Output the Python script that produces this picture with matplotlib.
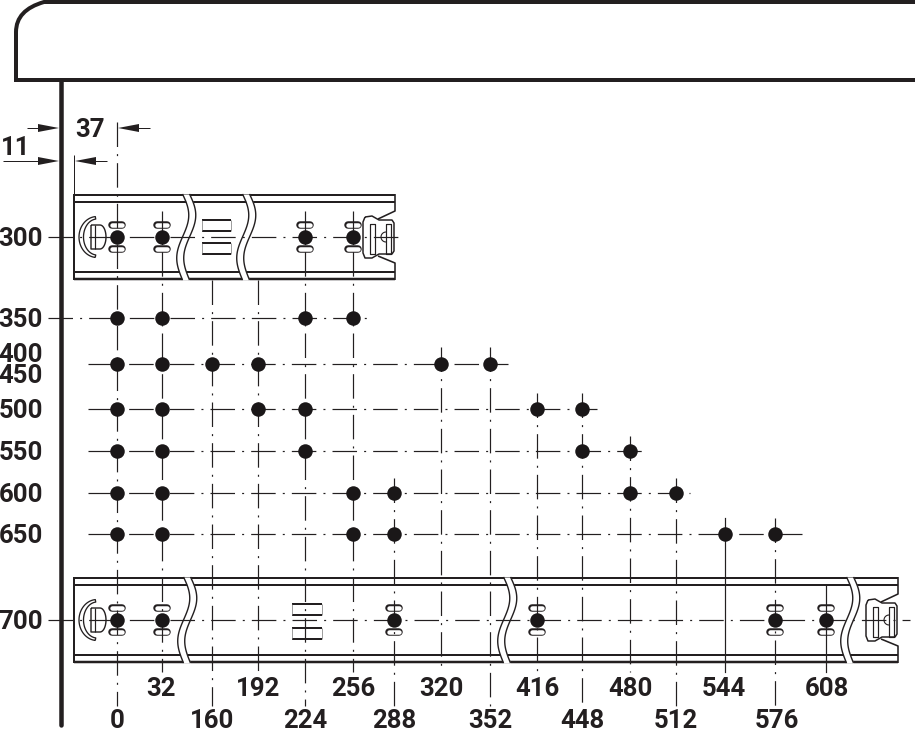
import numpy as np
import matplotlib
matplotlib.use('Agg')
import matplotlib.pyplot as plt
from matplotlib.path import Path
from matplotlib.patches import PathPatch, Polygon

plt.rcParams['font.family'] = ['Roboto', 'DejaVu Sans']
plt.rcParams['lines.scale_dashes'] = False

# hole rows (mm) and the columns (mm) drilled in each
row_names = [300, 350, 400, 500, 550, 600, 650, 700]
holes_300 = [0, 32, 224, 256]
holes_350 = [0, 32, 224, 256]
holes_400 = [0, 32, 160, 192, 320, 352]
holes_500 = [0, 32, 192, 224, 416, 448]
holes_550 = [0, 32, 224, 448, 480]
holes_600 = [0, 32, 256, 288, 480, 512]
holes_650 = [0, 32, 256, 288, 544, 576]
holes_700 = [0, 32, 288, 416, 576, 608]
all_holes = [holes_300, holes_350, holes_400, holes_500, holes_550, holes_600, holes_650, holes_700]

upper_labels = [32, 192, 256, 320, 416, 480, 544, 608]
lower_labels = [0, 160, 224, 288, 352, 448, 512, 576]
slot_columns_top = [0, 32, 224, 256]
slot_columns_bottom = [0, 32, 288, 416, 576, 608]
solid_columns = [544, 608]

# the drawing is not to scale, so columns/rows get their own pixel positions
col_x = {0: 117, 32: 162, 160: 212, 192: 258, 224: 305, 256: 353, 288: 394, 320: 441,
         352: 490, 416: 537, 448: 582, 480: 630, 512: 676, 544: 725, 576: 775, 608: 826}
row_y = {300: 237, 350: 318, 400: 364, 500: 409, 550: 451, 600: 493, 650: 534, 700: 620}
row_end = {300: 398, 350: 367, 400: 508, 500: 597, 550: 643, 600: 690, 650: 802, 700: 910}
col_top = {0: 122, 32: 211, 160: 280, 192: 280, 224: 211, 256: 211, 288: 478, 320: 347,
           352: 347, 416: 393, 448: 393, 480: 436, 512: 478, 544: 518, 576: 518, 608: 585}
label_shift = {32: -1, 544: -1, 576: 2, 608: 1}

INK = '#231f20'
PX = 0.72  # one pixel in points at dpi 100

fig = plt.figure(figsize=(9.15, 7.3), dpi=100)
ax = fig.add_axes([0, 0, 1, 1])
ax.set_xlim(0, 915)
ax.set_ylim(730, 0)
ax.axis('off')


def line(xs, ys, w=1.0, color=INK, z=2, **kw):
    ax.plot(xs, ys, color=color, lw=w * PX, zorder=z, solid_capstyle=kw.pop('cap', 'butt'), **kw)


def head(tip, y, direction, tail=None):
    # narrow filled dimension arrow
    ax.add_patch(Polygon([(tip, y), (tip + direction * 21, y - 4), (tip + direction * 21, y + 4)],
                         closed=True, fc=INK, ec='none', zorder=5))
    if tail is not None:
        line([tip + direction * 10, tail], [y, y], 1.0)


def wave(x0, top, bottom):
    t = np.linspace(0, 1, 60)
    x = x0 + 6.5 * np.sin(2 * np.pi * t) * (1 - 0.15 * t)
    y = top + (bottom - top) * t
    ax.fill_betweenx(y, x - 3.5, x + 3.5, color='white', zorder=3, lw=0)
    line(x - 3.5, y, 1.4, z=3)
    line(x + 3.5, y, 1.4, z=3)


def slide(x0, x1, yc, breaks):
    top, bottom = yc - 42, yc + 42
    line([x0, x1], [top, top], 2)
    line([x0, x1], [top + 7, top + 7], 2)
    line([x0, x1], [bottom, bottom], 2.5)
    line([x0, x1], [bottom - 7, bottom - 7], 2)
    line([x0, x0], [top - 1, bottom + 1], 2)
    # open right end with the notches
    line([x1, x1, x1 - 17], [top - 1, yc - 26, yc - 18], 1.6)
    line([x1, x1, x1 - 17], [bottom + 1, yc + 26, yc + 19], 1.6)
    for b in breaks:
        wave(b, top - 1, bottom + 1)


def left_clip(yc):
    t = np.linspace(np.pi * 0.53, np.pi * 1.47, 40)
    xs = np.r_[97 + 18 * np.cos(t), (97 + 13.5 * np.cos(t))[::-1]]
    ys = np.r_[yc + 20.5 * np.sin(t), (yc + 18 * np.sin(t))[::-1]]
    line(np.r_[xs, xs[0]], np.r_[ys, ys[0]], 1.3, z=3)
    a = np.linspace(-np.pi / 2, np.pi / 2, 20)
    line(np.r_[91, 100 + 6 * np.cos(a), 91, 91], np.r_[yc - 12, yc + 12 * np.sin(a), yc + 12, yc - 12], 1.4, z=3)
    line([94.5, 94.5], [yc - 12, yc + 12], 1.2, z=3)


def right_clip(dx, yc):
    xs = np.array([365, 372, 379, 392, 394, 394, 392, 379, 372, 365, 363, 363, 365])
    ys = np.array([-20, -21, -17, -17, -14, 14, 17, 17, 21, 21, 16, -15, -20])
    line(xs + dx, ys + yc, 1.5, z=3)
    for a, b in [(370, 375), (386, 391)]:
        line(np.array([a, b, b, a, a]) + dx, np.array([-13, -13, 17, 17, -13]) + yc, 1.2, z=3)
    t = np.linspace(np.pi / 2, 1.5 * np.pi, 20)
    line(386 + dx + 5 * np.cos(t), yc + 5 * np.sin(t), 1.1, z=3)


def window(x0, x1, y0, y1):
    line([x0, x1], [y0, y0], 2, z=3)
    line([x0, x1], [y1, y1], 2, z=3)
    line([x0, x0], [y0, y1], 0.7, color='#777777', z=3)
    line([x1, x1], [y0, y1], 0.7, color='#777777', z=3)


def slots(columns, yc):
    for c in columns:
        for off in (-12, 12):
            x = col_x[c]
            ax.plot([x - 4.8, x + 4.8], [yc + off, yc + off], color=INK, lw=7.5 * PX,
                    solid_capstyle='round', zorder=3)
            ax.plot([x - 4.8, x + 4.8], [yc + off, yc + off], color='white', lw=4.5 * PX,
                    solid_capstyle='round', zorder=3.1)


# worktop / cabinet outline
verts = [(16, 80), (16, 32), (16, 10), (44, 2), (915, 2)]
codes = [Path.MOVETO, Path.LINETO, Path.CURVE3, Path.CURVE3, Path.LINETO]
ax.add_patch(PathPatch(Path(verts, codes), fc='none', ec=INK, lw=4 * PX, zorder=4))
line([14, 915], [80, 80], 4, z=4)
line([61, 61], [80, 725], 4.5, z=4, cap='round')

# runners
slide(74, 395, row_y[300], [186, 246])
slide(74, 898, row_y[700], [187, 507, 850])
left_clip(row_y[300])
left_clip(row_y[700])
right_clip(0, row_y[300])
right_clip(503, row_y[700])
window(202, 231, 220, 231)
window(202, 231, 243, 254)
window(292, 322, 604, 615)
window(292, 322, 628, 639)
slots(slot_columns_top, row_y[300])
slots(slot_columns_bottom, row_y[700])

# centre lines, same chain pattern both ways
chain = (0, (24.5 * PX, 7.1 * PX, 2 * PX, 7.07 * PX))
for r in row_names:
    start = 48 if r in (300, 350, 700) else 88
    ax.plot([start, row_end[r]], [row_y[r], row_y[r]], color=INK, lw=1.2 * PX, ls=chain,
            dash_capstyle='butt', zorder=3.5)
for c in col_x:
    bottom = 706 if c in lower_labels else 672
    ax.plot([col_x[c], col_x[c]], [col_top[c], bottom], color=INK, lw=1.2 * PX,
            ls='-' if c in solid_columns else chain, dash_capstyle='butt', zorder=3.5)

# holes
for r, cols in zip(row_names, all_holes):
    ax.scatter([col_x[c] for c in cols], [row_y[r]] * len(cols), s=109, color='#1a1718',
               linewidths=0, zorder=6)

# dimensions
line([74, 74], [155, 195], 1.0)
head(59, 128, -1, 27)
head(118, 128, 1, 150)
head(59, 161, -1, 3)
head(75, 161, 1, 107)

txt = dict(fontsize=18.5, fontweight='bold', color=INK, zorder=7, va='baseline')
ax.text(90, 137, '37', ha='center', **txt)
ax.text(16, 155, '11', ha='center', **txt)
label_y = {300: 246, 350: 327, 400: 362, 500: 418, 550: 460, 600: 502, 650: 543, 700: 629}
for r in row_names:
    ax.text(43, label_y[r], str(r), ha='right', **txt)
ax.text(43, 383, '450', ha='right', **txt)
for c in upper_labels:
    ax.text(col_x[c] + label_shift.get(c, 0), 696, str(c), ha='center', **txt)
for c in lower_labels:
    ax.text(col_x[c] + label_shift.get(c, 0), 728, str(c), ha='center', **txt)

fig.savefig('out.png', dpi=100)
